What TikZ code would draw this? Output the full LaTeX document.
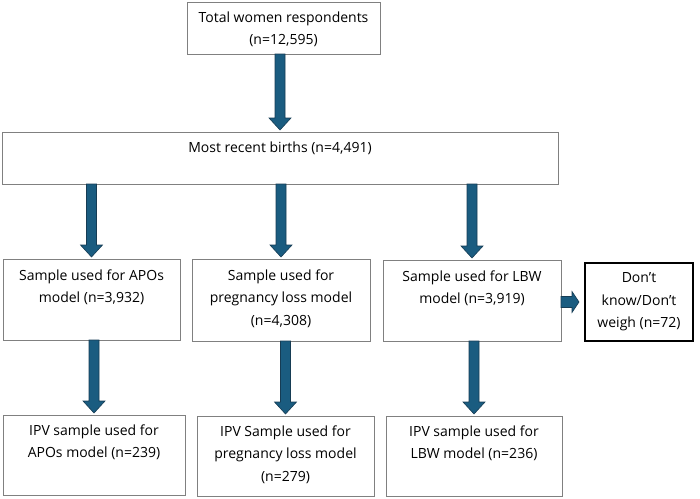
\documentclass[tikz,border=0pt]{standalone}
\usepackage{fontspec}
\setmainfont{Open Sans}
\usetikzlibrary{calc}
\definecolor{boxline}{RGB}{128,128,128}
\definecolor{arrowfill}{RGB}{26,92,128}
\definecolor{arrowedge}{RGB}{22,60,84}
\tikzset{
  box/.style={draw=boxline, line width=0.9pt, anchor=north west, inner sep=0pt, outer sep=0pt},
  boxtext/.style={anchor=north, align=center, inner sep=0pt, font=\fontsize{14}{22.5}\selectfont},
  blockarrow/.style={fill=arrowfill, draw=arrowedge, line width=0.6pt, line join=miter}
}
% block arrow from the bottom of #1 straight down to the top of #2
\newcommand\blockdown[2]{%
  \path[blockarrow] let \p1=(#1.south -| #2.north), \p2=(#2.north) in
    (\x1-5pt,\y1) -- (\x1+5pt,\y1) -- (\x1+5pt,\y2+14pt) -- (\x1+11pt,\y2+14pt)
    -- (\x1,\y2+2pt) -- (\x1-11pt,\y2+14pt) -- (\x1-5pt,\y2+14pt) -- cycle;}
\begin{document}
\begin{tikzpicture}[x=1pt, y=-1pt]
  \useasboundingbox (0,0) rectangle (700,498);

  % boxes
  \node[box, minimum width=193pt, minimum height=52pt] (top) at (187,2) {};
  \node[box, minimum width=556pt, minimum height=52pt] (mid) at (2,132) {};
  \node[box, minimum width=177pt, minimum height=81pt] (s1) at (3,259) {};
  \node[box, minimum width=178pt, minimum height=82pt] (s2) at (192,259) {};
  \node[box, minimum width=178pt, minimum height=81pt] (s3) at (383,260) {};
  \node[box, draw=black, line width=1.3pt, minimum width=108pt, minimum height=78pt] (dk) at (585,263) {};
  \node[box, minimum width=182pt, minimum height=80pt] (i1) at (3,415) {};
  \node[box, minimum width=177pt, minimum height=80pt] (i2) at (197,416) {};
  \node[box, minimum width=176pt, minimum height=80pt] (i3) at (386,416) {};

  % texts
  \node[boxtext] (ttop) at ([yshift=-9.5pt]top.north) {Total women respondents\\(n=12,595)};
  \node[boxtext] (tmid) at ([yshift=-9.5pt]mid.north) {Most recent births (n=4,491)};
  \node[boxtext] (ts1) at ([yshift=-10.5pt]s1.north) {Sample used for APOs\\model (n=3,932)};
  \node[boxtext] (ts2) at ([yshift=-10.5pt]s2.north) {Sample used for\\pregnancy loss model\\(n=4,308)};
  \node[boxtext] (ts3) at ([yshift=-10.5pt]s3.north) {Sample used for LBW\\model (n=3,919)};
  \node[boxtext] (tdk) at ([yshift=-9.5pt]dk.north) {Don’t\\know/Don’t\\weigh (n=72)};
  \node[boxtext] (ti1) at ([yshift=-9.5pt]i1.north) {IPV sample used for\\APOs model (n=239)};
  \node[boxtext] (ti2) at ([yshift=-9.5pt]i2.north) {IPV Sample used for\\pregnancy loss model\\(n=279)};
  \node[boxtext] (ti3) at ([yshift=-9.5pt]i3.north) {IPV sample used for\\LBW model (n=236)};

  % arrows
  \blockdown{top}{mid}
  \blockdown{mid}{s1}
  \blockdown{mid}{s2}
  \blockdown{mid}{s3}
  \blockdown{s1}{i1}
  \blockdown{s2}{i2}
  \blockdown{s3}{i3}
  \path[blockarrow] let \p1=(s3.east), \p2=(dk.west) in
    (\x1,\y2+5.5pt) -- (\x2-13pt,\y2+5.5pt) -- (\x2-13pt,\y2+10.5pt) -- (\x2-6pt,\y2)
    -- (\x2-13pt,\y2-10.5pt) -- (\x2-13pt,\y2-5.5pt) -- (\x1,\y2-5.5pt) -- cycle;
\end{tikzpicture}
\end{document}
